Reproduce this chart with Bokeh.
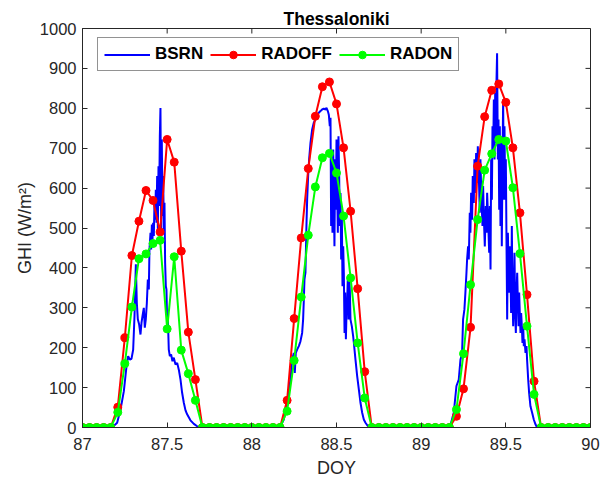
from bokeh.plotting import figure
from bokeh.models import FixedTicker, Legend, LegendItem, Range1d
from bokeh.embed import file_html
from bokeh.resources import INLINE

# ---------------- data ----------------
hours = list(range(73))  # hourly model output, hours since DOY 87.0

radoff = [0, 0, 0, 0, 0, 51, 225, 431, 517, 594, 569, 490, 722, 665, 442, 239, 120, 0,
          0, 0, 0, 0, 0, 0, 0, 0, 0, 0, 0,
          68, 273, 475, 649, 780, 854, 866, 811, 701, 542, 348, 140, 0,
          0, 0, 0, 0, 0, 0, 0, 0, 0, 0, 0,
          28, 97, 251, 655, 779, 845, 861, 815, 701, 538, 333, 116, 0,
          0, 0, 0, 0, 0, 0, 0]

radon = [0, 0, 0, 0, 0, 38, 160, 302, 423, 435, 461, 469, 247, 428, 194, 135, 68, 0,
         0, 0, 0, 0, 0, 0, 0, 0, 0, 0, 0,
         41, 168, 327, 482, 603, 676, 687, 638, 530, 375, 212, 74, 0,
         0, 0, 0, 0, 0, 0, 0, 0, 0, 0, 0,
         45, 185, 358, 521, 645, 686, 722, 718, 601, 436, 254, 83, 0,
         0, 0, 0, 0, 0, 0, 0]

# BSRN measurements (hours since DOY 87.0, W/m2)
bsrn_hour = [0.0, 4.20, 4.91, 5.39, 5.86, 6.24, 6.47, 6.71, 6.94, 7.18, 7.37, 7.56, 7.70, 7.84,
             8.03, 8.22, 8.36, 8.50, 8.69, 8.83, 8.97, 9.12, 9.26, 9.40, 9.49, 9.64, 9.73, 9.83,
             9.92, 10.01, 10.11, 10.20, 10.30, 10.39, 10.49, 10.58, 10.68, 10.77, 10.86, 10.96,
             11.05, 11.15, 11.24, 11.34, 11.43, 11.53, 11.62, 11.71, 11.81, 11.90, 12.00, 12.09,
             12.23, 12.38, 12.56, 12.75, 12.94, 13.18, 13.42, 13.65, 13.89, 14.12, 14.36, 14.60,
             14.83, 15.30, 15.78, 16.25, 16.63,
             27.96, 28.53, 29.00, 29.48, 29.71, 29.95, 30.09, 30.23, 30.42, 30.66, 30.89, 31.13,
             31.27, 31.37, 31.46, 31.60, 31.74, 31.84, 31.98, 32.12, 32.31, 32.55, 32.78, 33.02,
             33.25, 33.49, 33.73, 33.96, 34.20, 34.44, 34.58, 34.77, 34.91, 35.05, 35.15, 35.24,
             35.34, 35.43, 35.53, 35.62, 35.71, 35.81, 35.90, 36.00, 36.09, 36.19, 36.28, 36.38,
             36.47, 36.57, 36.66, 36.76, 36.85, 36.95, 37.04, 37.14, 37.23, 37.33, 37.42, 37.52,
             37.61, 37.71, 37.80, 37.90, 37.98, 38.17, 38.36, 38.46, 38.69, 38.93, 39.17, 39.40,
             39.64, 39.87, 40.11, 40.58,
             52.06, 52.62, 53.00, 53.33, 53.57, 53.80, 53.94, 54.13, 54.27, 54.42, 54.51, 54.65,
             54.75, 54.89, 54.98, 55.08, 55.22, 55.31, 55.46, 55.55, 55.69, 55.79, 55.93, 56.03,
             56.17, 56.31, 56.40, 56.55, 56.69, 56.78, 56.88, 57.02, 57.16, 57.26, 57.35, 57.49,
             57.64, 57.73, 57.83, 57.92, 58.02, 58.11, 58.21, 58.30, 58.40, 58.49, 58.59, 58.68,
             58.76, 58.87, 58.96, 59.06, 59.15, 59.24, 59.34, 59.43, 59.53, 59.62, 59.72, 59.81,
             59.91, 60.00, 60.10, 60.19, 60.29, 60.37, 60.47, 60.57, 60.66, 60.75, 60.85, 60.94,
             61.04, 61.13, 61.23, 61.32, 61.42, 61.51, 61.61, 61.70, 61.80, 61.89, 61.98, 62.08,
             62.17, 62.27, 62.36, 62.46, 62.55, 62.65, 62.79, 62.93, 63.01, 63.17, 63.30, 63.49,
             63.73, 63.96, 64.20, 64.43, 72.0]
bsrn_ghi = [0, 0, 12, 45, 91, 154, 179, 170, 172, 195, 279, 409, 312, 271,
            258, 233, 262, 279, 300, 250, 271, 312, 371, 346, 446, 488, 446, 509,
            471, 513, 480, 563, 521, 596, 513, 630, 496, 655, 555, 730,
            801, 496, 722, 530, 630, 496, 563, 413, 354, 346, 262, 279,
            195, 179, 183, 166, 175, 158, 162, 145, 120, 87, 62, 43,
            33, 18, 9, 3, 0,
            0, 20, 62, 120, 170, 187, 137, 187, 195, 204, 216, 237,
            271, 321, 371, 388, 505, 571, 630, 672, 713, 747, 764, 772,
            782, 789, 793, 797, 799, 797, 801, 793, 784, 755, 776, 505,
            672, 488, 697, 588, 454, 672, 546, 722, 605, 488, 730, 630,
            505, 588, 421, 530, 354, 454, 388, 237, 338, 221, 287, 321,
            379, 271, 379, 338, 271, 254, 229, 212, 170, 129, 95, 62,
            37, 20, 12, 0,
            0, 37, 104, 120, 170, 187, 271, 296, 338, 388, 421, 454,
            421, 538, 488, 588, 521, 630, 563, 672, 588, 688, 613, 705,
            630, 538, 672, 571, 505, 605, 530, 454, 555, 488, 588, 521,
            438, 555, 396, 672, 571, 755, 688, 822, 672, 839, 713, 872,
            938, 672, 772, 546, 755, 505, 713, 454, 672, 822, 571, 755,
            571, 672, 454, 271, 488, 421, 338, 454, 388, 287, 505, 338,
            254, 338, 438, 287, 237, 338, 388, 321, 254, 338, 287, 237,
            287, 254, 212, 254, 204, 221, 187, 204, 170, 120, 87, 53,
            37, 20, 8, 0, 0]

x_ticks = [87, 87.5, 88, 88.5, 89, 89.5, 90]
x_tick_labels = ["87", "87.5", "88", "88.5", "89", "89.5", "90"]
y_ticks = [0, 100, 200, 300, 400, 500, 600, 700, 800, 900, 1000]

doy_hourly = [87 + h / 24 for h in hours]
bsrn_doy = [87 + h / 24 for h in bsrn_hour]

# ---------------- figure ----------------
FONT = "Liberation Sans"
AX = "#262626"
X0, X1, Y0, Y1 = 87, 90, 0, 1000
FRAME_W, FRAME_H = 508, 399
TICK_PX = 5

p = figure(width=600, height=483, output_backend="svg", toolbar_location=None,
           x_range=Range1d(X0, X1), y_range=Range1d(Y0, Y1),
           min_border_left=82, min_border_right=10, min_border_top=28,
           min_border_bottom=56)
p.background_fill_color = "white"
p.border_fill_color = "white"
p.outline_line_color = AX
p.outline_line_width = 1
p.grid.visible = False

p.title.text = "Thessaloniki"
p.title.align = "center"
p.title.text_font = FONT
p.title.text_font_size = "17.5px"
p.title.text_font_style = "bold"
p.title.text_color = "black"
p.title.standoff = 0
p.title.offset = 0

for ax in (p.xaxis[0], p.yaxis[0]):
    ax.major_tick_in = TICK_PX
    ax.major_tick_out = 0
    ax.minor_tick_in = 0
    ax.minor_tick_out = 0
    ax.axis_line_color = AX
    ax.major_tick_line_color = AX
    ax.major_label_text_font = FONT
    ax.major_label_text_font_size = "16.5px"
    ax.major_label_text_color = AX
    ax.axis_label_text_font = FONT
    ax.axis_label_text_font_size = "18px"
    ax.axis_label_text_font_style = "normal"
    ax.axis_label_text_color = AX

p.xaxis.ticker = FixedTicker(ticks=x_ticks)
p.xaxis.major_label_overrides = {t: l for t, l in zip(x_ticks, x_tick_labels)}
p.xaxis.major_label_standoff = 10
p.xaxis.axis_label = "DOY"
p.xaxis.axis_label_standoff = 5
p.yaxis.ticker = FixedTicker(ticks=y_ticks)
p.yaxis.major_label_standoff = 6
p.yaxis.axis_label = "GHI (W/m²)"
p.yaxis.axis_label_standoff = 2

# inward ticks on the top and right edges of the box
dy = (Y1 - Y0) / FRAME_H * TICK_PX
dx = (X1 - X0) / FRAME_W * TICK_PX
p.segment(x0=x_ticks, y0=[Y1] * len(x_ticks), x1=x_ticks, y1=[Y1 - dy] * len(x_ticks),
          line_color=AX, line_width=1)
p.segment(x0=[X1] * len(y_ticks), y0=y_ticks, x1=[X1 - dx] * len(y_ticks), y1=y_ticks,
          line_color=AX, line_width=1)

BLUE, RED, GREEN = "#0000FF", "#FF0000", "#00FF00"
r_b = p.line(bsrn_doy, bsrn_ghi, line_color=BLUE, line_width=2)
r_rl = p.line(doy_hourly, radoff, line_color=RED, line_width=2)
r_rm = p.scatter(doy_hourly, radoff, marker="circle", size=8, fill_color=RED, line_color=RED)
r_gl = p.line(doy_hourly, radon, line_color=GREEN, line_width=2)
r_gm = p.scatter(doy_hourly, radon, marker="circle", size=8, fill_color=GREEN, line_color=GREEN)

legend = Legend(items=[LegendItem(label="BSRN", renderers=[r_b]),
                       LegendItem(label="RADOFF", renderers=[r_rl, r_rm]),
                       LegendItem(label="RADON", renderers=[r_gl, r_gm])],
                orientation="horizontal", location=(15, 356))
legend.label_text_font = FONT
legend.label_text_font_size = "17px"
legend.label_text_font_style = "bold"
legend.label_text_color = "black"
legend.glyph_width = 46
legend.glyph_height = 19
legend.label_height = 19
legend.label_standoff = 5
legend.spacing = 7
legend.padding = 6
legend.margin = 0
legend.border_line_color = AX
legend.border_line_width = 1
legend.background_fill_color = "white"
legend.background_fill_alpha = 1
p.add_layout(legend, "center")

open("out.html", "w").write(file_html(p, INLINE))
